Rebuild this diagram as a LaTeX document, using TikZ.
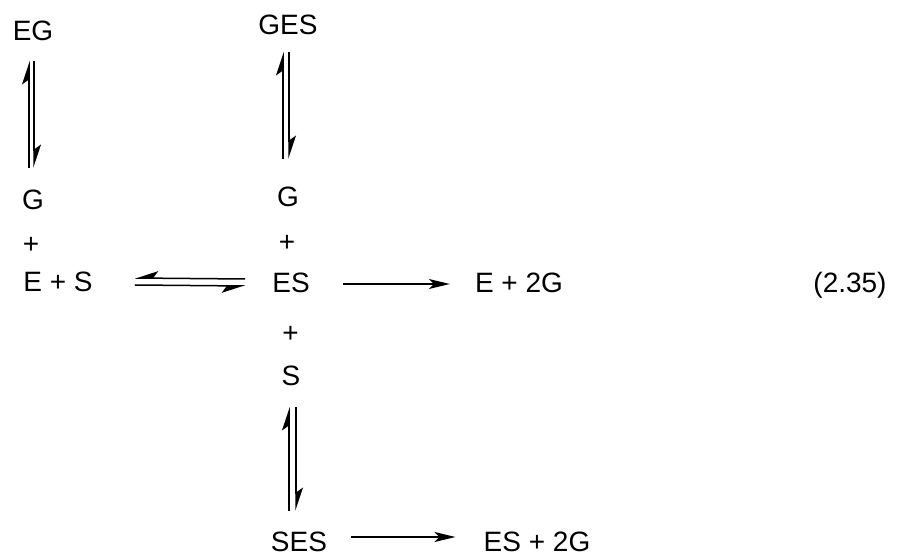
\documentclass[tikz,border=0pt]{standalone}
\usepackage{fontspec}
\setmainfont{Liberation Sans}
\usetikzlibrary{arrows.meta}
\begin{document}
\begin{tikzpicture}[x=1pt,y=-1pt,
  lbl/.style={inner sep=0pt,font=\fontsize{28}{32}\selectfont,text height=20pt,text depth=0pt},
  hp/.style={line width=1.5pt,-{Stealth[harpoon,length=21pt,width=14pt,inset=5pt]}},
  hps/.style={line width=1.5pt,-{Stealth[harpoon,swap,length=21pt,width=14pt,inset=5pt]}},
  fw/.style={line width=1.5pt,-{Stealth[length=21pt,width=10pt,inset=5pt]}}]
\useasboundingbox (0,0) rectangle (898,553);
\node[lbl] (eg) at (33,31) {EG};
\node[lbl] (g1) at (33,200) {G};
\node[lbl] (p1) at (31,244) {+};
\node[lbl] (es1) at (58,282) {E + S};
\node[lbl] (ges) at (288,25) {GES};
\node[lbl] (g2) at (288,197) {G};
\node[lbl] (p2) at (287,242) {+};
\node[lbl] (es) at (291,283) {ES};
\node[lbl] (p3) at (290.5,333) {+};
\node[lbl] (s) at (291,376) {S};
\node[lbl] (ses) at (299,541) {SES};
\node[lbl] (e2g) at (519,283) {E + 2G};
\node[lbl] (es2g) at (537,541) {ES + 2G};
\node[lbl] (eq) at (850,283) {(2.35)};
% EG <=> G
\draw[hp] ([xshift=-4pt,yshift=22pt]g1.north) -- ([xshift=-4pt,yshift=-20pt]eg.south);
\draw[hp] ([xshift=1pt,yshift=-20pt]eg.south) -- ([xshift=1pt,yshift=22pt]g1.north);
% GES <=> G
\draw[hp] ([xshift=-5pt,yshift=28pt]g2.north) -- ([xshift=-5pt,yshift=-17pt]ges.south);
\draw[hp] ([xshift=1pt,yshift=-17pt]ges.south) -- ([xshift=1pt,yshift=28pt]g2.north);
% S <=> SES
\draw[hp] ([xshift=-10pt,yshift=20pt]ses.north) -- ([xshift=-2pt,yshift=-21pt]s.south);
\draw[hp] ([xshift=5pt,yshift=-21pt]s.south) -- ([xshift=-3pt,yshift=20pt]ses.north);
% E+S <=> ES
\draw[hps] ([xshift=42pt,yshift=-3pt]es1.east) -- ([xshift=-27pt,yshift=-3pt]es.west);
\draw[hps] ([xshift=-27pt,yshift=4pt]es.west) -- ([xshift=42pt,yshift=4pt]es1.east);
% forward
\draw[fw] ([xshift=33pt,yshift=-1pt]es.east) -- ([xshift=-25pt,yshift=-1pt]e2g.west);
\draw[fw] ([xshift=24pt,yshift=4pt]ses.east) -- ([xshift=-28pt,yshift=4pt]es2g.west);
\end{tikzpicture}
\end{document}
